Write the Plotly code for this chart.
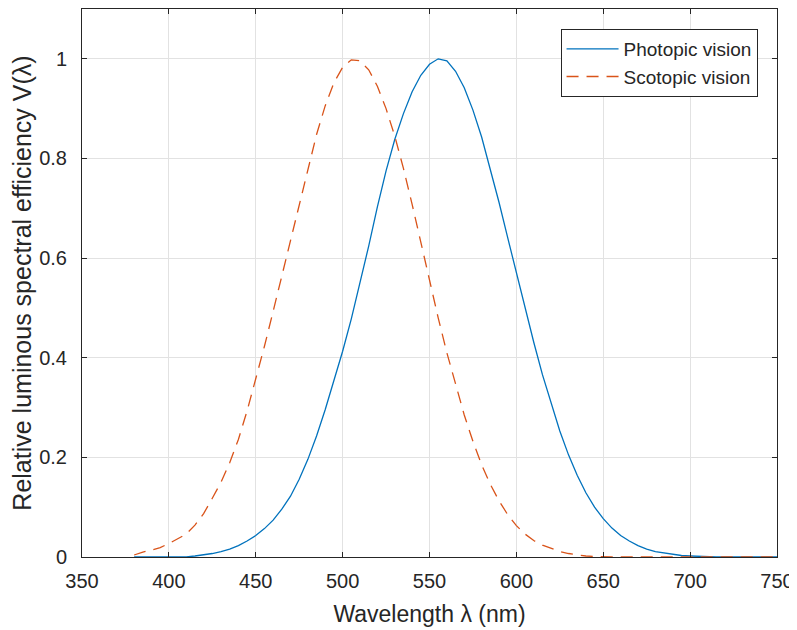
import plotly.graph_objects as go

# Wavelength grid (nm)
wavelength = [380, 385, 390, 395, 400, 405, 410, 415, 420, 425, 430, 435, 440, 445,
              450, 455, 460, 465, 470, 475, 480, 485, 490, 495, 500, 505, 510, 515,
              520, 525, 530, 535, 540, 545, 550, 555, 560, 565, 570, 575, 580, 585,
              590, 595, 600, 605, 610, 615, 620, 625, 630, 635, 640, 645, 650, 655,
              660, 665, 670, 675, 680, 685, 690, 695, 700, 705, 710, 715, 720, 725,
              730, 735, 740, 745, 750]

# Photopic vision V(lambda)
photopic = [0.0, 0.0, 0.0, 0.0, 0.0, 0.0, 0.0, 0.002, 0.004, 0.007, 0.011, 0.016, 0.023, 0.032,
            0.043, 0.057, 0.074, 0.096, 0.122, 0.156, 0.196, 0.243, 0.296, 0.353, 0.413, 0.478, 0.548, 0.624,
            0.703, 0.775, 0.838, 0.890, 0.934, 0.967, 0.989, 1.000, 0.996, 0.975, 0.942, 0.897, 0.843, 0.780,
            0.712, 0.641, 0.569, 0.499, 0.431, 0.366, 0.307, 0.253, 0.205, 0.164, 0.129, 0.100, 0.077, 0.058,
            0.043, 0.032, 0.023, 0.016, 0.011, 0.008, 0.005, 0.003, 0.002, 0.001, 0.0, 0.0, 0.0, 0.0,
            0.0, 0.0, 0.0, 0.0, 0.0]

# Scotopic vision V'(lambda)
scotopic = [0.004, 0.010, 0.014, 0.019, 0.027, 0.036, 0.046, 0.064, 0.087, 0.118, 0.150, 0.189, 0.236, 0.293,
            0.356, 0.423, 0.493, 0.565, 0.638, 0.710, 0.782, 0.848, 0.906, 0.952, 0.983, 0.998, 0.996, 0.978,
            0.945, 0.900, 0.845, 0.780, 0.708, 0.632, 0.555, 0.480, 0.410, 0.345, 0.285, 0.232, 0.185, 0.146,
            0.113, 0.085, 0.063, 0.046, 0.033, 0.024, 0.017, 0.011, 0.007, 0.004, 0.002, 0.001, 0.0, 0.0,
            0.0, 0.0, 0.0, 0.0, 0.0, 0.0, 0.0, 0.0, 0.0, 0.0, 0.0, 0.0, 0.0, 0.0,
            0.0, 0.0, 0.0, 0.0, 0.0]

x_ticks = [350, 400, 450, 500, 550, 600, 650, 700, 750]
y_ticks = [0, 0.2, 0.4, 0.6, 0.8, 1]
y_tick_labels = ["0", "0.2", "0.4", "0.6", "0.8", "1"]

FONT = "Liberation Sans, Arial, Helvetica, sans-serif"
TXT = "#262626"

fig = go.Figure()
fig.add_trace(go.Scatter(x=wavelength, y=photopic, mode="lines", name="Photopic vision",
                         line=dict(color="#0072BD", width=1.3)))
fig.add_trace(go.Scatter(x=wavelength, y=scotopic, mode="lines", name="Scotopic vision",
                         line=dict(color="#D95319", width=1.3, dash="12px,8px")))

axis_common = dict(showline=True, linecolor=TXT, linewidth=1, mirror="ticks",
                   ticks="inside", ticklen=5, tickcolor=TXT, tickwidth=1,
                   showgrid=True, gridcolor="#e2e2e2", gridwidth=1, zeroline=False,
                   automargin=False,
                   tickfont=dict(family=FONT, size=20, color=TXT))

# The page body has an 8px margin, so the figure is sized/offset to compensate.
fig.update_layout(
    width=789, height=622,
    margin=dict(l=74, r=20, t=1, b=73),
    paper_bgcolor="white", plot_bgcolor="white",
    font=dict(family=FONT, color=TXT),
    xaxis=dict(range=[350, 750], tickvals=x_ticks, ticktext=[str(t) for t in x_ticks],
               ticklabelstandoff=6,
               title=dict(text="Wavelength λ (nm)", font=dict(family=FONT, size=23, color=TXT), standoff=14),
               **axis_common),
    yaxis=dict(range=[0, 1.1], tickvals=y_ticks, ticktext=y_tick_labels,
               ticklabelstandoff=10,
               title=dict(text="Relative luminous spectral efficiency V(λ)",
                          font=dict(family=FONT, size=25, color=TXT), standoff=6),
               **axis_common),
    legend=dict(x=0.972, y=0.9636, xanchor="right", yanchor="top",
                bgcolor="white", bordercolor=TXT, borderwidth=1,
                font=dict(family=FONT, size=19, color=TXT), itemwidth=52,
                tracegroupgap=0),
    showlegend=True,
)

fig.write_html("out.html")
